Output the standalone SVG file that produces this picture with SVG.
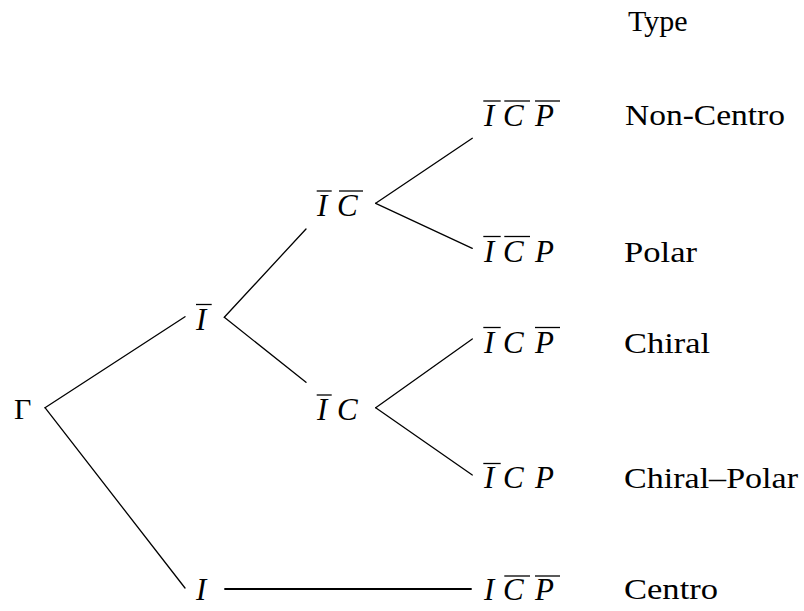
<svg xmlns="http://www.w3.org/2000/svg" width="804" height="611" viewBox="0 0 804 611">
<defs>
<style>
.ol{stroke:#000;stroke-width:1.3;fill:none}
.e{stroke:#000;stroke-width:1.3;fill:none;stroke-linecap:round}
.e2{stroke:#000;stroke-width:2;fill:none}
</style>
</defs>
<rect width="804" height="611" fill="#fff"/>
<g id="connectors">
<line class="e" x1="45" y1="407.7" x2="185" y2="316.7"/>
<line class="e" x1="45" y1="407.7" x2="185" y2="588"/>
<line class="e" x1="224.3" y1="317.3" x2="306" y2="229"/>
<line class="e" x1="224.3" y1="317.3" x2="306" y2="382.3"/>
<line class="e" x1="375.7" y1="203.3" x2="472.3" y2="138.3"/>
<line class="e" x1="375.7" y1="203.3" x2="472.3" y2="248.3"/>
<line class="e" x1="375.7" y1="407.7" x2="472.3" y2="339"/>
<line class="e" x1="375.7" y1="407.7" x2="472.3" y2="475"/>
<line class="e2" x1="224.3" y1="589" x2="471.7" y2="589"/>
</g>
<g id="n-Ibar">
<text x="196" y="330" style="font-family:'Liberation Serif',serif;font-size:31px;font-style:italic;fill:#000">I</text>
<line class="ol" x1="196" y1="304.5" x2="211.7" y2="304.5"/>
</g>
<g id="n-IbarCbar">
<text style="font-family:'Liberation Serif',serif;font-size:31px;font-style:italic;fill:#000"><tspan x="317" y="216">I</tspan><tspan x="337" y="216">C</tspan></text>
<line class="ol" x1="316.7" y1="191" x2="331.7" y2="191"/>
<line class="ol" x1="339" y1="191" x2="363" y2="191"/>
</g>
<g id="n-IbarC">
<text style="font-family:'Liberation Serif',serif;font-size:31px;font-style:italic;fill:#000"><tspan x="317" y="420">I</tspan><tspan x="337" y="420">C</tspan></text>
<line class="ol" x1="316.7" y1="395" x2="331.7" y2="395"/>
</g>
<g id="n-I"><text x="196" y="600" style="font-family:'Liberation Serif',serif;font-size:31px;font-style:italic;fill:#000">I</text></g>
<g id="n-IbarCbarPbar">
<text style="font-family:'Liberation Serif',serif;font-size:31px;font-style:italic;fill:#000"><tspan x="484" y="126">I</tspan><tspan x="503" y="126">C</tspan><tspan x="535" y="126">P</tspan></text>
<line class="ol" x1="483.3" y1="101" x2="500.7" y2="101"/>
<line class="ol" x1="504.3" y1="101" x2="530" y2="101"/>
<line class="ol" x1="535" y1="101" x2="560" y2="101"/>
</g>
<g id="n-IbarCbarP">
<text style="font-family:'Liberation Serif',serif;font-size:31px;font-style:italic;fill:#000"><tspan x="484" y="262">I</tspan><tspan x="503" y="262">C</tspan><tspan x="535" y="262">P</tspan></text>
<line class="ol" x1="483.3" y1="236.5" x2="500.7" y2="236.5"/>
<line class="ol" x1="504.3" y1="236.5" x2="530" y2="236.5"/>
</g>
<g id="n-IbarCPbar">
<text style="font-family:'Liberation Serif',serif;font-size:31px;font-style:italic;fill:#000"><tspan x="484" y="353">I</tspan><tspan x="503" y="353">C</tspan><tspan x="535" y="353">P</tspan></text>
<line class="ol" x1="483.3" y1="327.5" x2="500.7" y2="327.5"/>
<line class="ol" x1="535" y1="327.5" x2="560" y2="327.5"/>
</g>
<g id="n-IbarCP">
<text style="font-family:'Liberation Serif',serif;font-size:31px;font-style:italic;fill:#000"><tspan x="484" y="488">I</tspan><tspan x="503" y="488">C</tspan><tspan x="535" y="488">P</tspan></text>
<line class="ol" x1="483.3" y1="463.5" x2="500.7" y2="463.5"/>
</g>
<g id="n-ICbarPbar">
<text style="font-family:'Liberation Serif',serif;font-size:31px;font-style:italic;fill:#000"><tspan x="484" y="600">I</tspan><tspan x="503" y="600">C</tspan><tspan x="535" y="600">P</tspan></text>
<line class="ol" x1="504.3" y1="576" x2="530" y2="576"/>
<line class="ol" x1="535" y1="576" x2="560" y2="576"/>
</g>
<g id="n-gamma"><text x="14" y="419" style="font-family:'Liberation Serif',serif;font-size:30px;fill:#000">&#915;</text></g>
<g id="types">
<text x="628" y="31" style="font-family:'Liberation Serif',serif;font-size:30px;fill:#000">Type</text>
<text x="625" y="125" style="font-family:'Liberation Serif',serif;font-size:30px;fill:#000" textLength="160" lengthAdjust="spacingAndGlyphs">Non-Centro</text>
<text x="624" y="262" style="font-family:'Liberation Serif',serif;font-size:30px;fill:#000" textLength="73" lengthAdjust="spacingAndGlyphs">Polar</text>
<text x="624" y="353" style="font-family:'Liberation Serif',serif;font-size:30px;fill:#000" textLength="86" lengthAdjust="spacingAndGlyphs">Chiral</text>
<text x="624" y="488" style="font-family:'Liberation Serif',serif;font-size:30px;fill:#000" textLength="174" lengthAdjust="spacingAndGlyphs">Chiral&#8211;Polar</text>
<text x="624" y="599" style="font-family:'Liberation Serif',serif;font-size:30px;fill:#000" textLength="94" lengthAdjust="spacingAndGlyphs">Centro</text>
</g>
</svg>
